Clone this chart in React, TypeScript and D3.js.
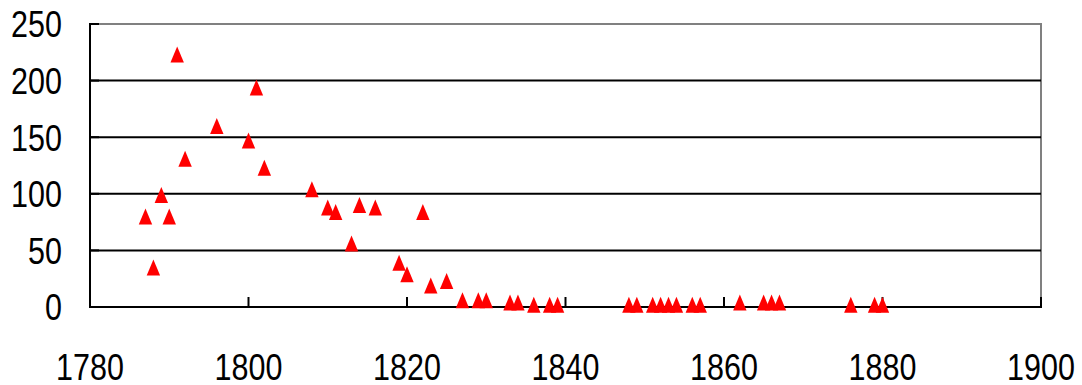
import React from "react";
import * as d3 from "d3";

// Observations per year
const years = [
  1787, 1788, 1789, 1790, 1791, 1792, 1796, 1800, 1801, 1802, 1808, 1810, 1811,
  1813, 1814, 1816, 1819, 1820, 1822, 1823, 1825, 1827, 1829, 1830, 1833, 1834,
  1836, 1838, 1839, 1848, 1849, 1851, 1852, 1853, 1854, 1856, 1857, 1862, 1865,
  1866, 1867, 1876, 1879, 1880,
];
const values = [
  80, 35, 99, 80, 223, 131, 160, 147, 194, 123, 104, 88, 84, 56, 90, 88, 39, 29,
  84, 19, 23, 6, 6, 6, 4, 4, 2, 2, 2, 2, 2, 2, 2, 2, 2, 2, 2, 4, 4, 4, 4, 2, 2, 2,
];
const xTicks = [1780, 1800, 1820, 1840, 1860, 1880, 1900];
const yTicks = [0, 50, 100, 150, 200, 250];

const W = 1082;
const H = 385;
const left = 90;
const right = 1041;
const top = 24;
const bottom = 307;

export default function App() {
  const x = d3.scaleLinear().domain([1780, 1900]).range([left, right]);
  const y = d3.scaleLinear().domain([0, 250]).range([bottom, top]);
  const tri = "M0,-8L6.7,8L-6.7,8Z";
  const font = "'Liberation Sans', Arial, sans-serif";

  return (
    <svg
      width={W}
      height={H}
      style={{ position: "absolute", left: 0, top: 0, background: "#fff" }}
    >
      {/* plot frame: grey top and right edges */}
      <path
        d={`M${left},${top}H${right}V${bottom}`}
        fill="none"
        stroke="#808080"
        strokeWidth={2}
      />
      {/* horizontal gridlines */}
      {yTicks
        .filter((t) => t > 0 && t < 250)
        .map((t) => (
          <line
            key={`g${t}`}
            x1={left}
            x2={right}
            y1={y(t)}
            y2={y(t)}
            stroke="#000"
            strokeWidth={2}
          />
        ))}
      {/* y tick marks (inside) */}
      {yTicks.map((t) => (
        <line
          key={`yt${t}`}
          x1={left}
          x2={left + 9}
          y1={y(t)}
          y2={y(t)}
          stroke="#000"
          strokeWidth={2}
        />
      ))}
      {/* x tick marks (inside) */}
      {xTicks.map((t) => (
        <line
          key={`xt${t}`}
          x1={x(t)}
          x2={x(t)}
          y1={bottom}
          y2={bottom - 10}
          stroke="#000"
          strokeWidth={2}
        />
      ))}
      {/* axes */}
      <line x1={left} x2={left} y1={top - 1} y2={bottom + 1} stroke="#000" strokeWidth={2} />
      <line x1={left - 1} x2={right + 1} y1={bottom} y2={bottom} stroke="#000" strokeWidth={2} />

      {/* y labels */}
      {yTicks.map((t) => (
        <text
          key={`yl${t}`}
          transform={`translate(62,${y(t) + 13.3}) scale(1,1.22)`}
          textAnchor="end"
          fontFamily={font}
          fontSize={30.5}
          fill="#000"
        >
          {t}
        </text>
      ))}
      {/* x labels */}
      {xTicks.map((t) => (
        <text
          key={`xl${t}`}
          transform={`translate(${x(t)},380) scale(1,1.22)`}
          textAnchor="middle"
          fontFamily={font}
          fontSize={30.5}
          fill="#000"
        >
          {t}
        </text>
      ))}

      {/* markers */}
      {years.map((yr, i) => (
        <path
          key={`m${i}`}
          d={tri}
          transform={`translate(${x(yr)},${y(values[i])})`}
          fill="#ff0000"
        />
      ))}
    </svg>
  );
}
